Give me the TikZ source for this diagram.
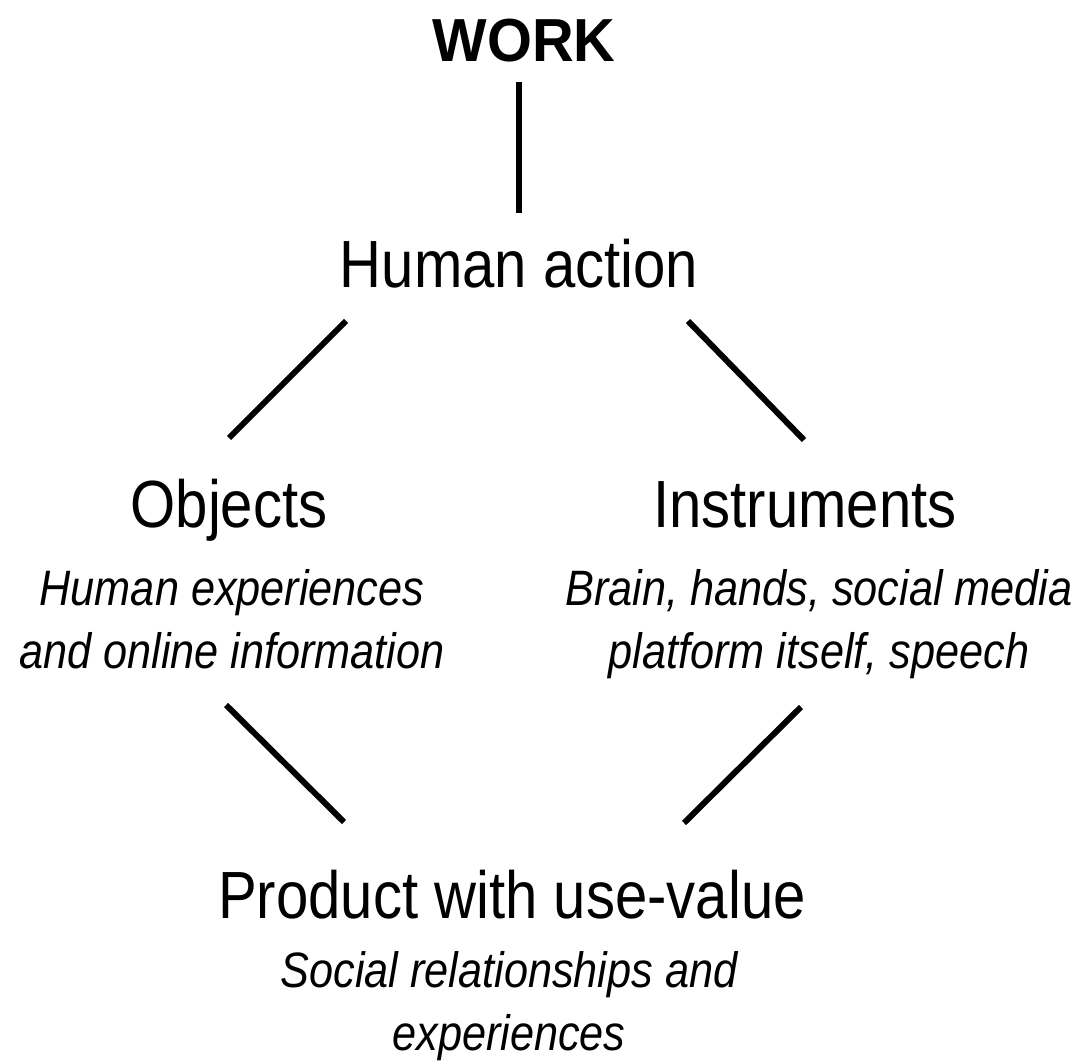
\documentclass[tikz,border=0pt]{standalone}
\usepackage{fontspec}
\setmainfont[FakeStretch=0.87]{Liberation Sans}
\newfontfamily\workfont[FakeStretch=0.95]{Liberation Sans Bold}
\usetikzlibrary{positioning}
\tikzset{
    %Define style for the headings
    heading/.style={
           inner sep=0pt,
           anchor=base,
           font=\fontsize{38}{46}\selectfont},
    %Define style for the descriptions
    detail/.style={
           inner sep=0pt,
           anchor=base,
           align=center,
           font=\fontsize{28.3}{35.8}\selectfont\itshape},
    % Define line style
    link/.style={
           line width=3.4pt}
}
\begin{document}
\begin{tikzpicture}[x=0.02cm,y=-0.02cm]
\useasboundingbox (0,0) rectangle (1082,1064);

\node[heading, font=\fontsize{34.6}{40}\workfont](work) at (524,62){WORK};
\node[heading](human) at (519,288){Human action};
\node[heading](objects) at (229,527){Objects};
\node[heading](instruments) at (805,527){Instruments};
\node[heading](product) at (512,918){Product with use-value};

% base anchor sits on the last line
\node[detail](objdetail) at (232,668){Human experiences\\and online information};
\node[detail](instdetail) at (819,668){Brain, hands, social media\\platform itself, speech};
\node[detail](proddetail) at (509,1050){Social relationships and\\experiences};

% line ends
\coordinate (w1) at (519,82);
\coordinate (w2) at (519,213);
\coordinate (l1) at (346,321);
\coordinate (l2) at (229,438);
\coordinate (r1) at (688,321);
\coordinate (r2) at (804,440);
\coordinate (l3) at (226,705);
\coordinate (l4) at (344,822);
\coordinate (r3) at (801,707);
\coordinate (r4) at (684,823);

\path[link]
	(w1) edge (w2)
	(l1) edge (l2)
	(r1) edge (r2)
	(l3) edge (l4)
	(r3) edge (r4);
\end{tikzpicture}
\end{document}
